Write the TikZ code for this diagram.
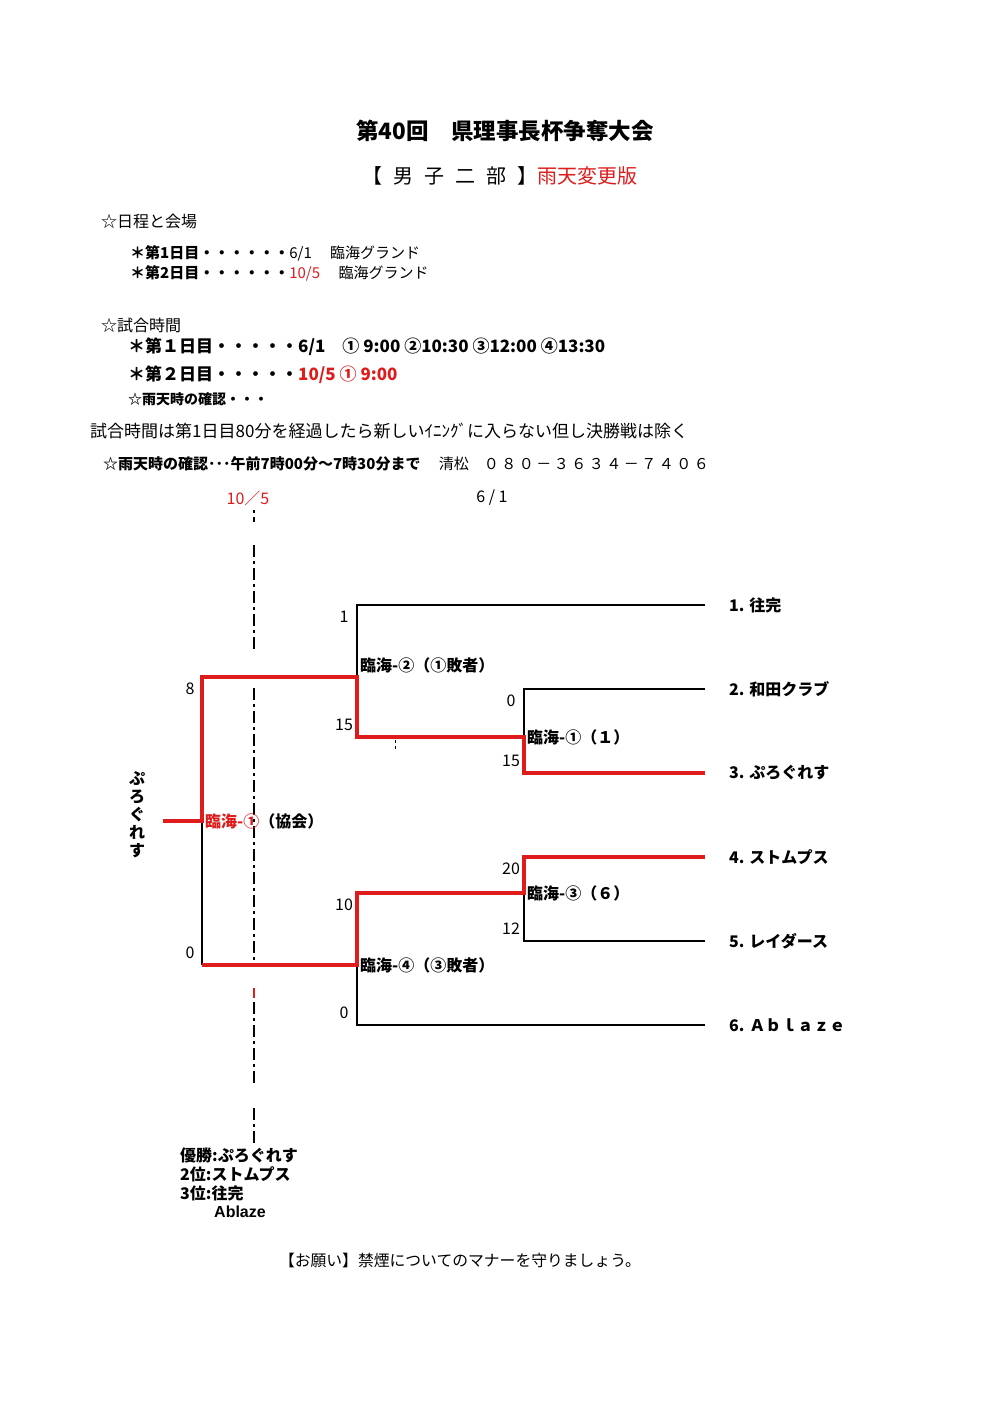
\documentclass[tikz,border=0pt]{standalone}
\usepackage{fontspec}
\setmainfont{Noto Sans CJK JP}
\newfontfamily\latinsans{Liberation Sans}
\newcommand{\fsz}[1]{\fontsize{#1}{#1}\selectfont}
\newcommand{\gsp}{\hspace{0.55em}}
\definecolor{rd}{RGB}{222,28,28}
\begin{document}
\begin{tikzpicture}[x=1pt,y=-1pt,
  lose/.style={line width=1.3pt, draw=black},
  win/.style={line width=3.8pt, draw=rd, line join=miter},
  ddline/.style={line width=1.2pt, draw=black, dash pattern=on 12pt off 4pt on 3pt off 4pt},
  txt/.style={inner sep=0pt, anchor=west},
  ctr/.style={inner sep=0pt, anchor=center},
  score/.style={inner sep=0pt, anchor=center, font=\fsz{16}},
  team/.style={inner sep=0pt, anchor=west, font=\bfseries\fsz{16}},
  game/.style={inner sep=0pt, anchor=west, font=\bfseries\fsz{16}}]
\useasboundingbox (0,0) rectangle (991,1403);
\fill[white] (0,0) rectangle (991,1403);

% header
\node[ctr, font=\bfseries\fsz{22.5}] (title) at (505,131) {第40回　県理事長杯争奪大会};
\node[ctr, font=\fsz{20}] (sub) at (500,176) {【\gsp 男\gsp 子\gsp 二\gsp 部\gsp 】\textcolor{rd}{雨天変更版}};

\node[txt, font=\fsz{16}] (h1) at (101,221) {☆日程と会場};
\node[txt, font=\fsz{15}] (d1) at (130,253) {\textbf{＊第1日目・・・・・・}6/1　 臨海グランド};
\node[txt, font=\fsz{15}] (d2) at (130,273) {\textbf{＊第2日目・・・・・・}\textcolor{rd}{10/5}　 臨海グランド};

\node[txt, font=\fsz{16}] (h2) at (101,325) {☆試合時間};
\node[txt, font=\bfseries\fsz{17}] (s1) at (128,347) {＊第１日目・・・・・6/1　① 9:00 ②10:30 ③12:00 ④13:30};
\node[txt, font=\bfseries\fsz{17}] (s2) at (128,375) {＊第２日目・・・・・\textcolor{rd}{10/5 ① 9:00}};
\node[txt, font=\bfseries\fsz{14}] (s3) at (128,399) {☆雨天時の確認・・・};
\node[txt, font=\fsz{17}] (rule) at (90,431) {試合時間は第1日目80分を経過したら新しいｲﾆﾝｸﾞに入らない但し決勝戦は除く};
\node[txt, font=\fsz{15}] (rain) at (103,464) {\textbf{☆雨天時の確認･･･午前7時00分～7時30分まで}　 清松　０\,８\,０\,－\,３\,６\,３\,４\,－\,７\,４\,０\,６};

\node[ctr, font=\fsz{16}, text=rd] (dt2) at (248,498) {10／5};
\node[ctr, font=\fsz{16}] (dt1) at (492,498) {6 / 1};

% dash-dot date line
\coordinate (v0) at (254,510);
\coordinate (v1) at (254,522);
\coordinate (v2) at (254,545);
\coordinate (v3) at (254,650);
\coordinate (v4) at (254,688);
\coordinate (v5) at (254,965);
\coordinate (v6) at (254,988);
\coordinate (v6b) at (254,998);
\coordinate (v7) at (254,1085);
\coordinate (v8) at (254,1108);
\coordinate (v9) at (254,1145);
\draw[line width=1.2pt, dash pattern=on 3pt off 4pt on 5pt off 4pt] (v0) -- (v1);
\draw[ddline] (v2) -- (v3);
\draw[ddline] (v4) -- (v5);
\draw[line width=1.2pt, draw=rd] (v6) -- (v6b);
\draw[ddline, dash phase=-4pt] (v6b) -- (v7);
\draw[ddline] (v8) -- (v9);
\coordinate (m0) at (395,740);
\coordinate (m1) at (395,750);
\draw[line width=1pt, dash pattern=on 3pt off 3pt] (m0) -- (m1);

% teams
\node[team] (t1) at (729,605) {1. 往完};
\node[team] (t2) at (729,689) {2. 和田クラブ};
\node[team] (t3) at (729,773) {3. ぷろぐれす};
\node[team] (t4) at (729,857) {4. ストムプス};
\node[team] (t5) at (729,941) {5. レイダース};
\node[team] (t6) at (729,1025) {6. Ａｂｌａｚｅ};

\coordinate (e1) at (705,605);
\coordinate (e2) at (705,689);
\coordinate (e3) at (705,773);
\coordinate (e4) at (705,857);
\coordinate (e5) at (705,941);
\coordinate (e6) at (705,1025);

% joints
\coordinate (a1) at (357,605);
\coordinate (a2) at (357,677);
\coordinate (b1) at (524,689);
\coordinate (b2) at (524,737);
\coordinate (b3) at (524,773);
\coordinate (a3) at (357,737);
\coordinate (f1) at (202,677);
\coordinate (f2) at (202,821);
\coordinate (f3) at (163,821);
\coordinate (f4) at (202,965);
\coordinate (c1) at (524,857);
\coordinate (c2) at (524,893);
\coordinate (c3) at (524,941);
\coordinate (d1c) at (357,893);
\coordinate (d2c) at (357,965);
\coordinate (d3c) at (357,1025);

% losing lines
\draw[lose] (e1) -- (a1) -- (a2);
\draw[lose] (e2) -- (b1) -- (b2);
\draw[lose] (e5) -- (c3) -- (c2);
\draw[lose] (e6) -- (d3c) -- (d2c);
\draw[lose] (f2) -- (f4);

% winning lines
\draw[win] (e3) -- (b3) -- (b2) -- (a3) -- (a2) -- (f1) -- (f2) -- (f3);
\draw[win] (e4) -- (c1) -- (c2) -- (d1c) -- (d2c) -- (f4);

% scores
\node[score] (sc1) at (344,617) {1};
\node[score] (sc2) at (344,725) {15};
\node[score] (sc3) at (190,689) {8};
\node[score] (sc4) at (190,953) {0};
\node[score] (sc5) at (511,701) {0};
\node[score] (sc6) at (511,761) {15};
\node[score] (sc7) at (511,869) {20};
\node[score] (sc8) at (511,929) {12};
\node[score] (sc9) at (344,905) {10};
\node[score] (sc10) at (344,1013) {0};

% game labels
\node[game] (g2) at (360,665) {臨海-②（①敗者）};
\node[game] (g1a) at (527,737) {臨海-①（１）};
\node[game] (g1) at (205,821) {\textcolor{rd}{臨海-①}（協会）};
\node[game] (g3) at (527,893) {臨海-③（６）};
\node[game] (g4) at (360,965) {臨海-④（③敗者）};

% champion vertical
\node[ctr, font=\bfseries\fsz{16}, align=center] (champ) at (137,815) {ぷ\\[2pt]ろ\\[2pt]ぐ\\[2pt]れ\\[2pt]す};

% results
\node[txt, font=\bfseries\fsz{16}] (r1) at (180,1155) {優勝:ぷろぐれす};
\node[txt, font=\bfseries\fsz{16}] (r2) at (180,1174) {2位:ストムプス};
\node[txt, font=\bfseries\fsz{16}] (r3) at (180,1193) {3位:往完};
\node[txt, font=\latinsans\bfseries\fsz{16}] (r4) at (214,1212) {Ablaze};

\node[ctr, font=\fsz{15.8}] (note) at (460,1260) {【お願い】禁煙についてのマナーを守りましょう。};
\end{tikzpicture}
\end{document}
